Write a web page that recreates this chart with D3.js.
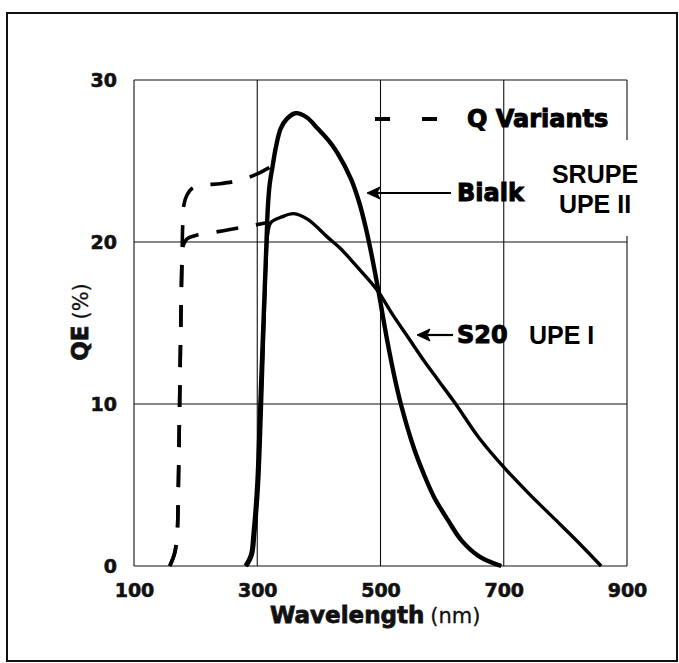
<!DOCTYPE html>
<html>
<head>
<meta charset="utf-8">
<script src="https://cdn.jsdelivr.net/npm/d3@7"></script>
<style>
  html, body { margin: 0; padding: 0; background: #fff; }
  svg { display: block; }
</style>
</head>
<body>
<svg id="chart" width="679" height="663"></svg>
<script>
// ---- data ----
const xTicks = [100, 300, 500, 700, 900];
const yTicks = [0, 10, 20, 30];

const bialkWl = [281, 290, 294, 300, 305, 309, 313, 315, 317, 320, 325, 330, 338, 348, 362, 380, 398, 415, 430, 452, 465, 476, 484, 497, 510, 522, 533, 554, 570, 587, 610, 631, 660, 696];
const bialkQE = [0, 0.7, 2, 5, 10, 14, 18, 20, 22, 23.5, 24.7, 25.8, 27.0, 27.6, 27.95, 27.7, 27.0, 26.3, 25.5, 23.9, 22.5, 20.9, 19.5, 16.9, 14.1, 11.8, 10, 7.3, 5.7, 4.25, 2.8, 1.6, 0.6, 0];

const s20Wl = [283, 292, 296, 302, 307, 311, 314, 317, 322, 340, 359, 382, 414, 435, 452, 473, 495, 520, 545, 570, 593, 622, 660, 700, 740, 780, 820, 858];
const s20QE = [0, 0.7, 2, 5, 10, 15, 18.5, 20.5, 21.2, 21.55, 21.75, 21.4, 20.3, 19.6, 18.9, 18.0, 17.0, 15.5, 14.1, 12.7, 11.5, 10, 7.9, 6.1, 4.5, 3.0, 1.5, 0];

const qBialkWl = [158, 166, 170, 172, 174, 176, 178, 179, 181, 186, 194, 210, 240, 270, 300, 315, 325];
const qBialkQE = [0, 0.8, 2, 5, 10, 15, 19, 21, 22.3, 22.9, 23.3, 23.5, 23.6, 23.8, 24.2, 24.5, 24.7];

const qS20Wl = [158, 166, 170, 172, 174, 176, 178, 180, 186, 200, 230, 260, 290, 317];
const qS20QE = [0, 0.8, 2, 5, 10, 15, 19, 19.8, 20.2, 20.4, 20.6, 20.8, 21.0, 21.2];

const xTitle = "Wavelength";
const xUnit = "(nm)";
const yTitle = "QE";
const yUnit = "(%)";
const legendLabel = "Q Variants";
const labelBialk = "Bialk";
const labelS20 = "S20";
const labelUpe1 = "UPE I";
const boxLines = ["SRUPE", "UPE II"];

// ---- drawing ----
const svg = d3.select("#chart");
const x = d3.scaleLinear().domain([100, 900]).range([134, 627]);
const y = d3.scaleLinear().domain([0, 30]).range([566, 80]);

const heavy = "'DejaVu Sans', sans-serif";
const arial = "'Liberation Sans', Arial, sans-serif";

// outer frame
svg.append("rect").attr("x", 7).attr("y", 13).attr("width", 670).attr("height", 648)
  .attr("fill", "none").attr("stroke", "#111").attr("stroke-width", 2);

// grid lines
const grid = svg.append("g").attr("stroke", "#111").attr("stroke-width", 1.1).attr("fill", "none");
grid.selectAll("line.v").data(xTicks).join("line")
  .attr("x1", d => x(d)).attr("x2", d => x(d)).attr("y1", y(30)).attr("y2", y(0));
grid.selectAll("line.h").data(yTicks).join("line")
  .attr("x1", x(100)).attr("x2", x(900)).attr("y1", d => y(d)).attr("y2", d => y(d));

// axes (labels only; lines drawn as grid)
const xAxis = d3.axisBottom(x).tickValues(xTicks).tickSize(0).tickPadding(0);
const gx = svg.append("g").attr("transform", `translate(0,${y(0)})`).call(xAxis);
gx.select(".domain").remove();
gx.selectAll("text").attr("dy", null).attr("y", 31)
  .attr("font-family", heavy).attr("font-weight", "bold").attr("font-size", 19)
  .attr("fill", "#111").attr("stroke", "#111").attr("stroke-width", 0.6);

const yAxis = d3.axisLeft(y).tickValues(yTicks).tickSize(0).tickPadding(0);
const gy = svg.append("g").attr("transform", `translate(117,0)`).call(yAxis);
gy.select(".domain").remove();
gy.selectAll("text").attr("dy", "0.36em").attr("x", 0)
  .attr("font-family", heavy).attr("font-weight", "bold").attr("font-size", 19)
  .attr("fill", "#111").attr("stroke", "#111").attr("stroke-width", 0.6);

// axis titles
const xt = svg.append("text").attr("x", 270).attr("y", 623)
  .attr("font-family", heavy).attr("font-size", 23).attr("fill", "#111");
xt.append("tspan").attr("font-weight", "bold").attr("stroke", "#111").attr("stroke-width", 0.8).text(xTitle);
xt.append("tspan").attr("font-size", 21).attr("dx", 6).attr("stroke", "#111").attr("stroke-width", 0.3).text(xUnit);

const yt = svg.append("text").attr("transform", "translate(88,322) rotate(-90)")
  .attr("text-anchor", "middle").attr("font-family", heavy).attr("font-size", 23).attr("fill", "#111");
yt.append("tspan").attr("font-weight", "bold").attr("stroke", "#111").attr("stroke-width", 0.8).text(yTitle);
yt.append("tspan").attr("dx", 6).attr("font-size", 21).attr("stroke", "#111").attr("stroke-width", 0.3).text(yUnit);

// curves
const line = d3.line().x(d => x(d[0])).y(d => y(d[1])).curve(d3.curveCatmullRom.alpha(0.5));
const zip = (a, b) => a.map((v, i) => [v, b[i]]);

svg.append("path").datum(zip(qS20Wl, qS20QE)).attr("d", line)
  .attr("fill", "none").attr("stroke", "#000").attr("stroke-width", 3.6)
  .attr("stroke-dasharray", "22,18");
svg.append("path").datum(zip(qBialkWl, qBialkQE)).attr("d", line)
  .attr("fill", "none").attr("stroke", "#000").attr("stroke-width", 3.6)
  .attr("stroke-dasharray", "22,18");
svg.append("path").datum(zip(s20Wl, s20QE)).attr("d", line)
  .attr("fill", "none").attr("stroke", "#000").attr("stroke-width", 3.4)
  .attr("stroke-linejoin", "round");
svg.append("path").datum(zip(bialkWl, bialkQE)).attr("d", line)
  .attr("fill", "none").attr("stroke", "#000").attr("stroke-width", 4.4)
  .attr("stroke-linejoin", "round");

// legend: dashed sample + label
svg.append("line").attr("x1", 375).attr("x2", 443).attr("y1", 119).attr("y2", 119)
  .attr("stroke", "#000").attr("stroke-width", 4).attr("stroke-dasharray", "15,32");
const bigLabel = (txt, xx, yy) => svg.append("text").attr("x", xx).attr("y", yy)
  .attr("font-family", heavy).attr("font-weight", "bold").attr("font-size", 24)
  .attr("fill", "#000").attr("stroke", "#000").attr("stroke-width", 1).text(txt);
bigLabel(legendLabel, 467, 127);
bigLabel(labelBialk, 457, 201);
bigLabel(labelS20, 457, 343);

// arrows
function arrow(x1, x2, yy) {
  svg.append("line").attr("x1", x1 + 8).attr("x2", x2).attr("y1", yy).attr("y2", yy)
    .attr("stroke", "#000").attr("stroke-width", 2.2);
  svg.append("path").attr("d", `M${x1},${yy} L${x1 + 13},${yy - 6} L${x1 + 10},${yy} L${x1 + 13},${yy + 6} Z`)
    .attr("fill", "#000").attr("stroke", "#000").attr("stroke-width", 1);
}
arrow(367, 451, 193);
arrow(417, 453, 335);

// white box with SRUPE / UPE II
svg.append("rect").attr("x", 528).attr("y", 140).attr("width", 134).attr("height", 96).attr("fill", "#fff");
svg.append("g").selectAll("text").data(boxLines).join("text")
  .attr("x", 595).attr("y", (d, i) => 183 + i * 30).attr("text-anchor", "middle")
  .attr("font-family", arial).attr("font-weight", "bold").attr("font-size", 25)
  .attr("fill", "#000").text(d => d);

svg.append("text").attr("x", 529).attr("y", 344)
  .attr("font-family", arial).attr("font-weight", "bold").attr("font-size", 25)
  .attr("fill", "#000").text(labelUpe1);
</script>
</body>
</html>
